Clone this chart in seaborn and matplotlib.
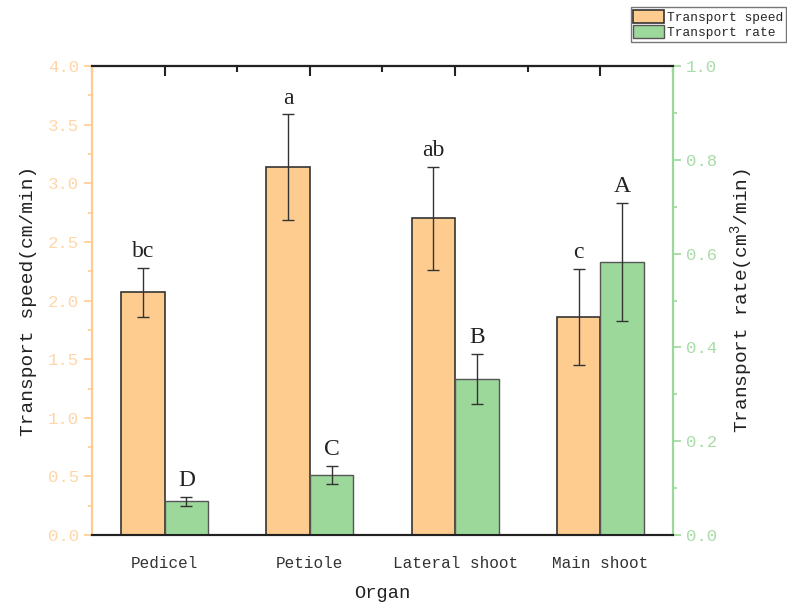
import matplotlib
matplotlib.use("Agg")
import matplotlib.pyplot as plt
import pandas as pd
import seaborn as sns
from matplotlib.patches import Patch
from matplotlib.ticker import MultipleLocator, FixedLocator, FormatStrFormatter

# 数据
organs = ["Pedicel", "Petiole", "Lateral shoot", "Main shoot"]
speed = [2.07, 3.14, 2.70, 1.86]
speed_err = [0.21, 0.45, 0.44, 0.41]
speed_letters = ["bc", "a", "ab", "c"]
rate = [0.072, 0.128, 0.333, 0.582]
rate_err = [0.010, 0.020, 0.053, 0.126]
rate_letters = ["D", "C", "B", "A"]

series = ["Transport speed", "Transport rate"]
orange = "#FFCC90"
green = "#9DD89B"
orange_txt = "#FFD6A8"
green_txt = "#A8DDA8"

speed_df = pd.DataFrame({"Organ": organs, "value": speed, "Series": series[0]})
rate_df = pd.DataFrame({"Organ": organs, "value": rate, "Series": series[1]})

sns.set_theme(style="white")
plt.rcParams["font.family"] = ["Liberation Mono", "DejaVu Sans"]
plt.rcParams["mathtext.fontset"] = "custom"
plt.rcParams["mathtext.rm"] = "Liberation Mono"

fig = plt.figure(figsize=(7.87, 6.06), dpi=100)
ax = fig.add_axes([0.117, 0.117, 0.738, 0.774])
ax2 = ax.twinx()

palette = {series[0]: orange, series[1]: green}
sns.barplot(data=speed_df, x="Organ", y="value", hue="Series", hue_order=series,
            palette=palette, saturation=1, dodge=True, width=0.6, ax=ax,
            edgecolor="#333333", linewidth=1.2, legend=False)
sns.barplot(data=rate_df, x="Organ", y="value", hue="Series", hue_order=series,
            palette=palette, saturation=1, dodge=True, width=0.6, ax=ax2,
            edgecolor="#555555", linewidth=1.0, legend=False)


def add_err(axis, vals, errs, letters):
    bars = [p for p in axis.patches if p.get_height() > 0]
    bars = sorted(bars, key=lambda p: p.get_x())
    for p, v, e, t in zip(bars, vals, errs, letters):
        cx = p.get_x() + p.get_width() / 2.0
        axis.errorbar(cx, v, yerr=e, color="#333333", lw=1, capsize=4, capthick=1)
        axis.annotate(t, (cx, v + e), xytext=(0, 4), textcoords="offset points",
                      ha="center", va="bottom", fontsize=17,
                      family=["Liberation Serif"], color="#222222")


add_err(ax, speed, speed_err, speed_letters)
add_err(ax2, rate, rate_err, rate_letters)

ax.set_xlim(-0.5, 3.5)
ax.set_ylim(0, 4.0)
ax2.set_ylim(0, 1.0)

ax.yaxis.set_major_locator(MultipleLocator(0.5))
ax.yaxis.set_minor_locator(MultipleLocator(0.25))
ax2.yaxis.set_major_locator(MultipleLocator(0.2))
ax2.yaxis.set_minor_locator(MultipleLocator(0.1))
ax.xaxis.set_minor_locator(FixedLocator([-0.5, 0.5, 1.5, 2.5, 3.5]))
ax.yaxis.set_major_formatter(FormatStrFormatter("%.1f"))
ax2.yaxis.set_major_formatter(FormatStrFormatter("%.1f"))

for a in (ax, ax2):
    for s in a.spines.values():
        s.set_linewidth(1.5)
    a.spines["top"].set_color("#222222")
    a.spines["bottom"].set_color("#222222")
    a.spines["left"].set_color(orange)
    a.spines["right"].set_color(green)

ax.tick_params(axis="x", which="major", direction="out", length=7, width=1.5,
               color="#222222", labelsize=11.5, labelcolor="#333333", pad=8)
ax.tick_params(axis="x", which="minor", direction="out", length=4, width=1.5,
               color="#222222")
ax.tick_params(axis="y", which="major", direction="out", length=6, width=1.2,
               color=orange, labelcolor=orange_txt, labelsize=12.5, left=True)
ax.tick_params(axis="y", which="minor", direction="out", length=3, width=1.2,
               color=orange, left=True)
ax2.tick_params(axis="y", which="major", direction="out", length=6, width=1.2,
                color=green, labelcolor=green_txt, labelsize=12.5, right=True)
ax2.tick_params(axis="y", which="minor", direction="out", length=3, width=1.2,
                color=green, right=True)

# 顶部刻度向内
top = ax.secondary_xaxis("top")
top.set_xticks(range(len(organs)))
top.xaxis.set_minor_locator(FixedLocator([-0.5, 0.5, 1.5, 2.5, 3.5]))
top.tick_params(axis="x", which="major", direction="in", length=7, width=1.5,
                color="#222222", labeltop=False)
top.tick_params(axis="x", which="minor", direction="in", length=4, width=1.5,
                color="#222222")
top.spines["top"].set_linewidth(1.5)
top.spines["top"].set_color("#222222")

ax.set_xlabel("Organ", fontsize=13.5, color="#222222", labelpad=10)
ax.set_ylabel("Transport speed(cm/min)", fontsize=14, color="#222222", labelpad=8)
ax2.set_ylabel("Transport rate(cm$^3$/min)", fontsize=14, color="#222222", labelpad=8)

# 图例
handles = [Patch(facecolor=orange, edgecolor="#333333", linewidth=1.2, label=series[0]),
           Patch(facecolor=green, edgecolor="#555555", linewidth=1.0, label=series[1])]
fig.legend(handles=handles, loc="upper right", bbox_to_anchor=(1.0, 0.99),
           fontsize=9.3, frameon=True, fancybox=False, edgecolor="#555555",
           handlelength=2.4, handleheight=1.2, handletextpad=0.2,
           borderpad=0.2, labelspacing=0.1, borderaxespad=0.1)

fig.savefig("out.png", dpi=100)
